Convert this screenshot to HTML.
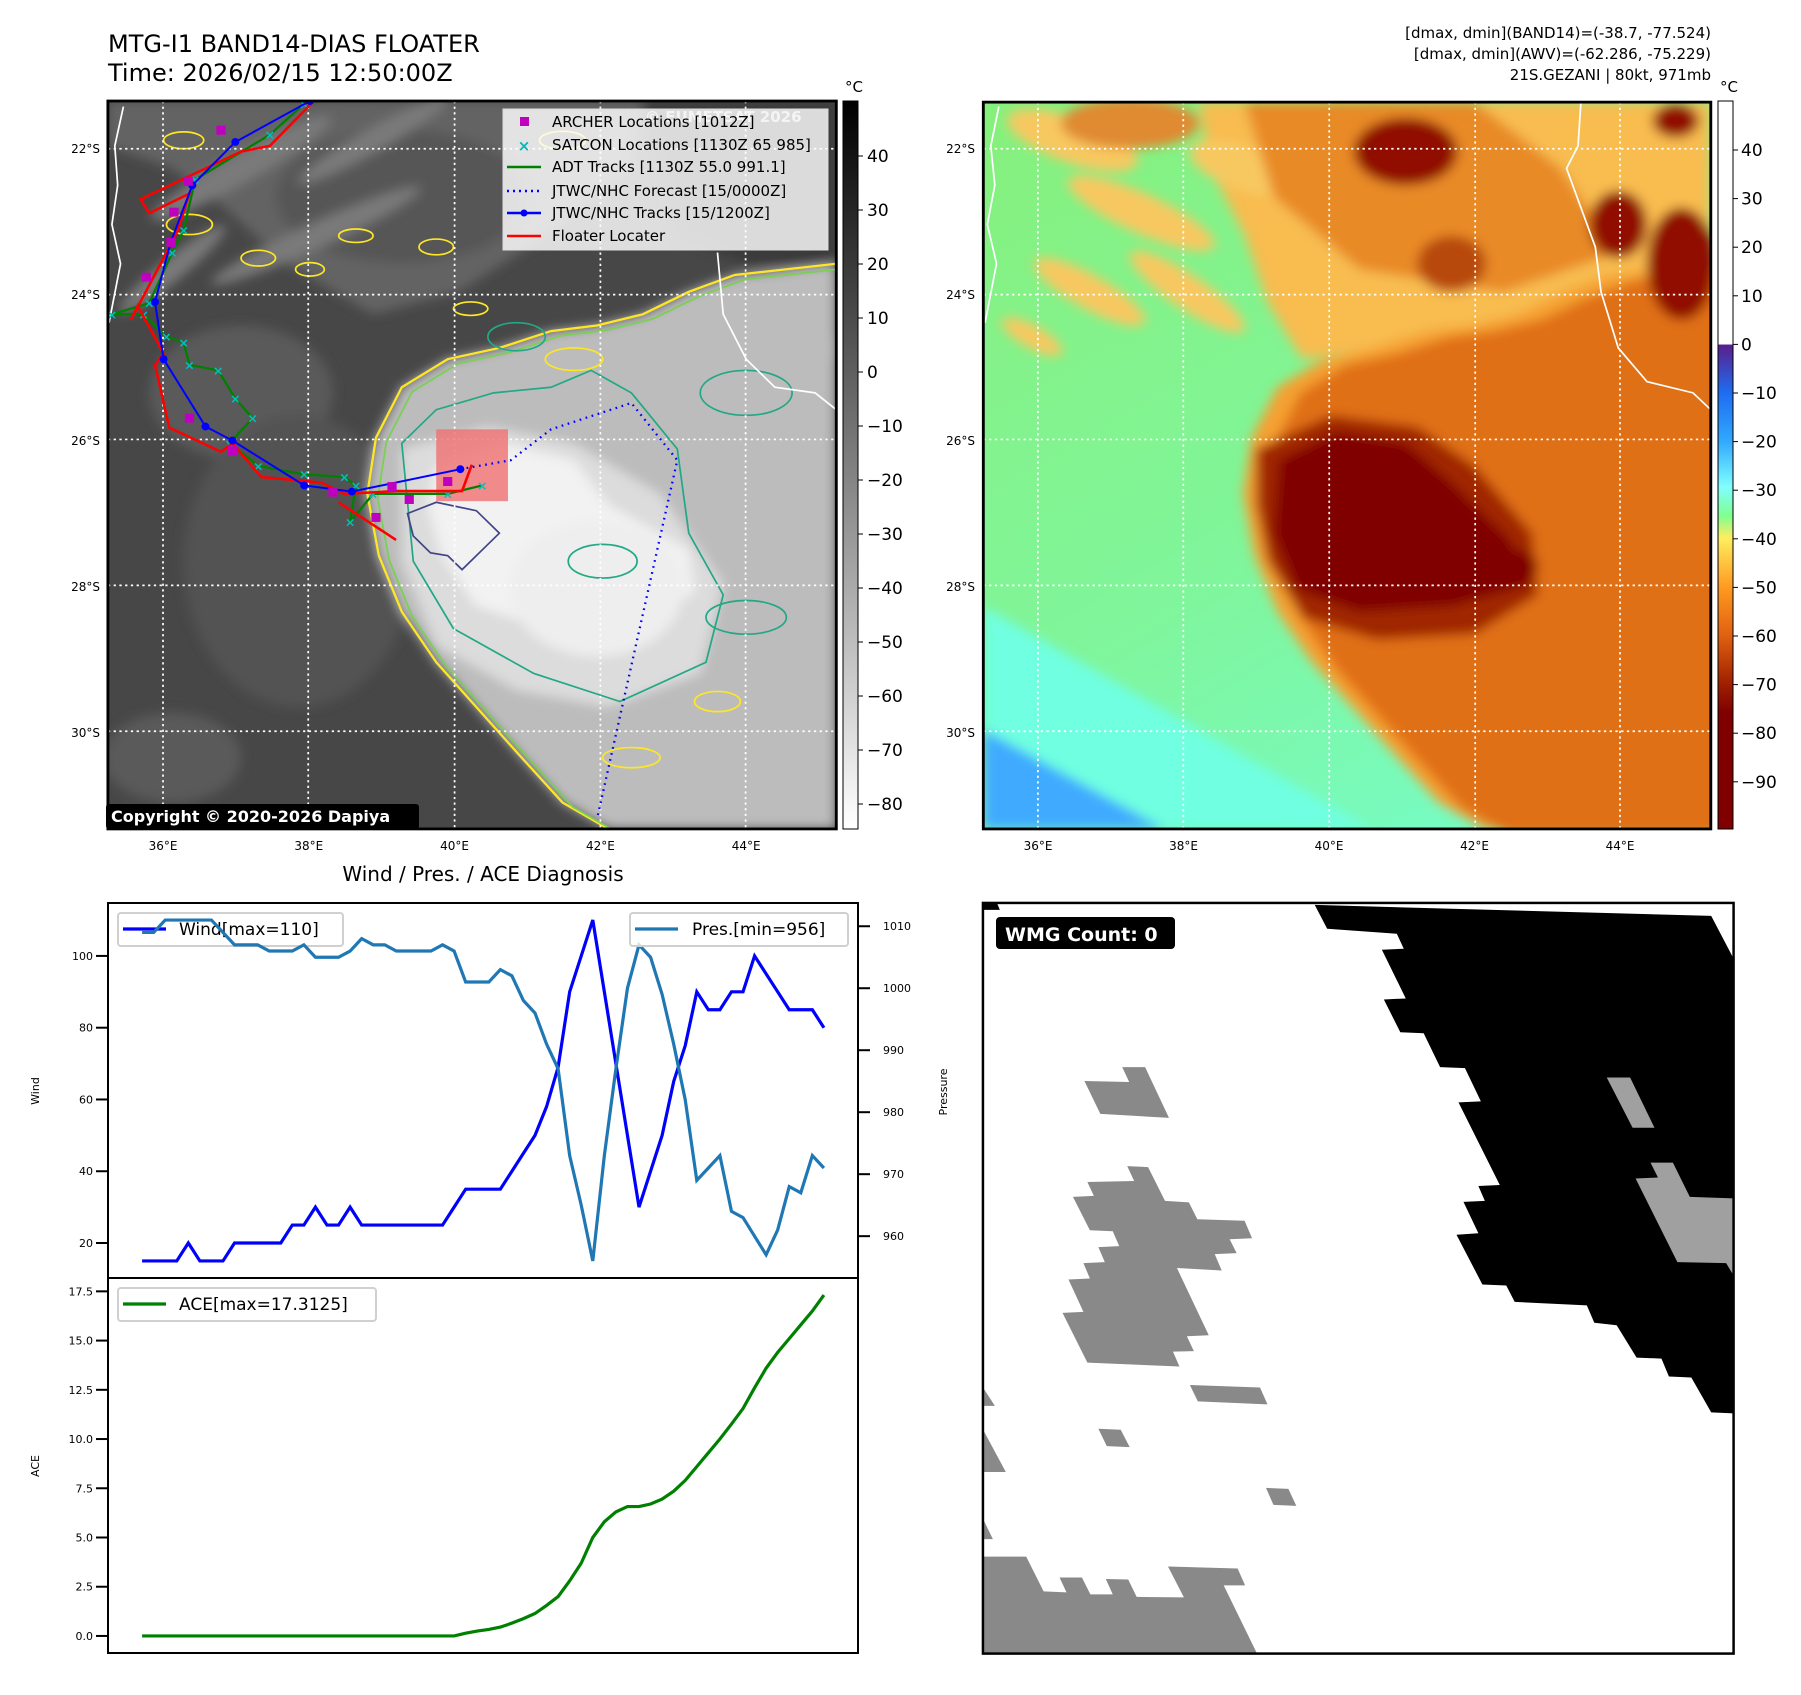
<!DOCTYPE html>
<html><head><meta charset="utf-8">
<style>
html,body{margin:0;padding:0;background:#fff;}
body{width:1801px;height:1690px;overflow:hidden;position:relative;font-family:"Liberation Sans","DejaVu Sans",sans-serif;}
svg text{font-family:"DejaVu Sans","Liberation Sans",sans-serif;}
</style></head>
<body>
<svg id="root" width="1801" height="1690" viewBox="0 0 1801 1690" xmlns="http://www.w3.org/2000/svg">
<defs>
  <filter id="blur8" x="-20%" y="-20%" width="140%" height="140%"><feGaussianBlur stdDeviation="10"/></filter>
  <filter id="blur4" x="-20%" y="-20%" width="140%" height="140%"><feGaussianBlur stdDeviation="5"/></filter>
  <clipPath id="clipL"><rect x="188" y="180" width="1269" height="1297"/></clipPath>
  <clipPath id="clipR"><rect x="145" y="182" width="1266" height="1295"/></clipPath>
  <linearGradient id="cbGray" x1="0" y1="0" x2="0" y2="1">
    <stop offset="0" stop-color="#000"/><stop offset="1" stop-color="#fff"/>
  </linearGradient>
  <linearGradient id="cbColor" x1="0" y1="0" x2="0" y2="1">
    <stop offset="0" stop-color="#fff"/>
    <stop offset="0.334" stop-color="#fff"/>
    <stop offset="0.335" stop-color="#5a1e8c"/>
    <stop offset="0.40" stop-color="#1e6cf0"/>
    <stop offset="0.467" stop-color="#30a8ff"/>
    <stop offset="0.53" stop-color="#80ffff"/>
    <stop offset="0.57" stop-color="#80ff90"/>
    <stop offset="0.60" stop-color="#ffee60"/>
    <stop offset="0.668" stop-color="#ff9a20"/>
    <stop offset="0.735" stop-color="#e06010"/>
    <stop offset="0.80" stop-color="#a02000"/>
    <stop offset="0.84" stop-color="#800000"/>
    <stop offset="1" stop-color="#800000"/>
  </linearGradient>
  <linearGradient id="seaR" x1="0" y1="0" x2="0.6" y2="1">
    <stop offset="0" stop-color="#86f07c"/>
    <stop offset="0.6" stop-color="#80f59a"/>
    <stop offset="1" stop-color="#78fbc0"/>
  </linearGradient>
</defs>

<text x="108" y="52" font-size="24" fill="#000">MTG-I1 BAND14-DIAS FLOATER</text>
<text x="108" y="81" font-size="24" fill="#000">Time: 2026/02/15 12:50:00Z</text>
<text x="1711" y="38" font-size="15" text-anchor="end">[dmax, dmin](BAND14)=(-38.7, -77.524)</text>
<text x="1711" y="59" font-size="15" text-anchor="end">[dmax, dmin](AWV)=(-62.286, -75.229)</text>
<text x="1711" y="80" font-size="15" text-anchor="end">21S.GEZANI | 80kt, 971mb</text>

<svg x="0" y="0" width="900" height="880" viewBox="0 0 1568 1568" preserveAspectRatio="none">
  <g clip-path="url(#clipL)" id="leftMap"></g>
  <rect x="188" y="180" width="1269" height="1297" fill="none" stroke="#000" stroke-width="5"/>
</svg>
<svg x="900" y="0" width="901" height="880" viewBox="0 0 1568 1568" preserveAspectRatio="none">
  <g clip-path="url(#clipR)" id="rightMap"></g>
  <rect x="145" y="182" width="1266" height="1295" fill="none" stroke="#000" stroke-width="5"/>
</svg>

<rect x="843" y="101" width="15" height="728" fill="url(#cbGray)" stroke="#000" stroke-width="1"/>
<text x="854" y="92" font-size="15" text-anchor="middle">°C</text>
<g id="cbLticks"></g>
<rect x="1718" y="101" width="15" height="728" fill="url(#cbColor)" stroke="#000" stroke-width="1"/>
<text x="1729" y="92" font-size="15" text-anchor="middle">°C</text>
<g id="cbRticks"></g>
<g id="mapLabels"></g>

<g>
  <text x="645" y="122" font-size="15" font-weight="bold" fill="#ffffff" opacity="0.7">© EUMETSAT 2026</text>
  <rect x="503" y="109" width="325" height="141" fill="#ffffff" fill-opacity="0.82" stroke="#ddd"/>
  <rect x="520" y="117" width="9" height="9" fill="#c000c0"/>
  <text x="552" y="127" font-size="15">ARCHER Locations [1012Z]</text>
  <text x="524" y="151" font-size="15" fill="#00b8b8" text-anchor="middle" font-weight="bold">×</text>
  <text x="552" y="150" font-size="15">SATCON Locations [1130Z 65 985]</text>
  <line x1="507" y1="167" x2="541" y2="167" stroke="#008000" stroke-width="2.5"/>
  <text x="552" y="172" font-size="15">ADT Tracks [1130Z 55.0 991.1]</text>
  <line x1="507" y1="191" x2="541" y2="191" stroke="#0000ff" stroke-width="2.5" stroke-dasharray="2,4"/>
  <text x="552" y="196" font-size="15">JTWC/NHC Forecast [15/0000Z]</text>
  <line x1="507" y1="213" x2="541" y2="213" stroke="#0000ff" stroke-width="2.5"/>
  <circle cx="524" cy="213" r="3.5" fill="#0000ff"/>
  <text x="552" y="218" font-size="15">JTWC/NHC Tracks [15/1200Z]</text>
  <line x1="507" y1="236" x2="541" y2="236" stroke="#ff0000" stroke-width="2.5"/>
  <text x="552" y="241" font-size="15">Floater Locater</text>
</g>
<rect x="106" y="804" width="313" height="25" rx="3" fill="#000"/>
<text x="111" y="822" font-size="16" font-weight="bold" fill="#fff">Copyright © 2020-2026 Dapiya</text>

<text x="483" y="881" font-size="20" text-anchor="middle">Wind / Pres. / ACE Diagnosis</text>
<g id="chart"></g>

<svg x="970" y="890" width="780" height="780" viewBox="0 0 1568 1568" preserveAspectRatio="none">
  <rect x="26" y="26" width="1509" height="1509" fill="#fff"/>
  <g id="wmg"></g>
  <rect x="26" y="26" width="1509" height="1509" fill="none" stroke="#000" stroke-width="5"/>
</svg>
<rect x="996" y="917" width="179" height="32" rx="4" fill="#000"/>
<text x="1005" y="941" font-size="19" font-weight="bold" fill="#fff">WMG Count: 0</text>
</svg>

<script>
const timeSteps = Array.from({length:60},(_,i)=>i);
const windValues = [15,15,15,15,20,15,15,15,20,20,20,20,20,25,25,30,25,25,30,25,25,25,25,25,25,25,25,30,35,35,35,35,40,45,50,58,69,90,100,110,90,70,50,30,40,50,65,75,90,85,85,90,90,100,95,90,85,85,85,80];
const presValues = [1009,1009,1011,1011,1011,1011,1011,1009,1007,1007,1007,1006,1006,1006,1007,1005,1005,1005,1006,1008,1007,1007,1006,1006,1006,1006,1007,1006,1001,1001,1001,1003,1002,998,996,991,987,973,965,956,973,987,1000,1007,1005,999,991,982,969,971,973,964,963,960,957,961,968,967,973,971];
const aceValues = [0,0,0,0,0,0,0,0,0,0,0,0,0,0,0,0,0,0,0,0,0,0,0,0,0,0,0,0,0.14,0.25,0.33,0.45,0.65,0.88,1.14,1.55,2.0,2.8,3.7,5.0,5.8,6.3,6.57,6.57,6.7,6.95,7.35,7.9,8.6,9.3,10.0,10.76,11.55,12.6,13.6,14.4,15.1,15.8,16.5,17.3125];
const windTicks = [20,40,60,80,100];
const presTicks = [960,970,980,990,1000,1010];
const aceTicks = [0.0,2.5,5.0,7.5,10.0,12.5,15.0,17.5];
const windLabel = "Wind[max=110]";
const presLabel = "Pres.[min=956]";
const aceLabel = "ACE[max=17.3125]";

const NS="http://www.w3.org/2000/svg";
function mk(tag, attrs, parent){const e=document.createElementNS(NS,tag);for(const k in attrs)e.setAttribute(k,attrs[k]);if(parent)parent.appendChild(e);return e;}
function ext(arr){const mn=Math.min(...arr),mx=Math.max(...arr),m=(mx-mn)*0.05;return [mn-m,mx+m];}

const PX0=108,PX1=858,WY0=903,WY1=1278,AY0=1278,AY1=1653;
const xd=ext(timeSteps);
function xS(i){return PX0+(i-xd[0])/(xd[1]-xd[0])*(PX1-PX0);}
const wd=ext(windValues);
function wY(v){return WY1-(v-wd[0])/(wd[1]-wd[0])*(WY1-WY0);}
const pd=ext(presValues);
function pY(v){return WY1-(v-pd[0])/(pd[1]-pd[0])*(WY1-WY0);}
const ad=ext(aceValues);
function aY(v){return AY1-(v-ad[0])/(ad[1]-ad[0])*(AY1-AY0);}

const chart=document.getElementById('chart');
const fmt1=v=>v.toFixed(1);

let wp=mk('rect',{x:PX0,y:WY0,width:PX1-PX0,height:WY1-WY0,fill:'#fff'},chart);


windTicks.forEach(t=>{
  const y=wY(t);
  mk('line',{x1:PX0-12,y1:y,x2:PX0,y2:y,stroke:'#000','stroke-width':2},chart);
  const tx=mk('text',{x:PX0-15,y:y+4,'font-size':11,'text-anchor':'end'},chart);
  tx.textContent=t;
  
  
});
presTicks.forEach(t=>{
  const y=pY(t);
  mk('line',{x1:PX1,y1:y,x2:PX1+12,y2:y,stroke:'#000','stroke-width':2},chart);
  const tx=mk('text',{x:PX1+25,y:y+4,'font-size':11},chart);
  tx.textContent=t;
  
  
});
const wl=mk('polyline',{points:timeSteps.map(i=>xS(i)+','+wY(windValues[i])).join(' '),fill:'none',stroke:'#0000ff','stroke-width':3.2},chart);


const wlg=mk('g',{},chart);


mk('rect',{x:118,y:913,width:225,height:33,rx:3,fill:'#fff','fill-opacity':0.8,stroke:'#d0d0d0','stroke-width':2},wlg);
mk('line',{x1:123,y1:929,x2:166,y2:929,stroke:'#0000ff','stroke-width':3.2},wlg);
const wlt=mk('text',{x:179,y:935,'font-size':17},wlg); wlt.textContent=windLabel;
const pl=mk('polyline',{points:timeSteps.map(i=>xS(i)+','+pY(presValues[i])).join(' '),fill:'none',stroke:'#1f77b4','stroke-width':3.2},chart);


const plg=mk('g',{},chart);


mk('rect',{x:630,y:913,width:218,height:33,rx:3,fill:'#fff','fill-opacity':0.8,stroke:'#d0d0d0','stroke-width':2},plg);
mk('line',{x1:635,y1:929,x2:678,y2:929,stroke:'#1f77b4','stroke-width':3.2},plg);
const plt=mk('text',{x:692,y:935,'font-size':17},plg); plt.textContent=presLabel;
mk('rect',{x:PX0,y:WY0,width:PX1-PX0,height:WY1-WY0,fill:'none',stroke:'#000','stroke-width':2},chart);
let t1=mk('text',{x:0,y:0,'font-size':11,transform:'translate(39,1091) rotate(-90)','text-anchor':'middle'},chart);t1.textContent='Wind';


let t2=mk('text',{x:0,y:0,'font-size':11,transform:'translate(947,1092) rotate(-90)','text-anchor':'middle'},chart);t2.textContent='Pressure';



aceTicks.forEach(t=>{
  const y=aY(t);
  mk('line',{x1:PX0-12,y1:y,x2:PX0,y2:y,stroke:'#000','stroke-width':2},chart);
  const tx=mk('text',{x:PX0-15,y:y+4,'font-size':11,'text-anchor':'end'},chart);
  tx.textContent=fmt1(t);
  
  
});
const al=mk('polyline',{points:timeSteps.map(i=>xS(i)+','+aY(aceValues[i])).join(' '),fill:'none',stroke:'#008000','stroke-width':3.2},chart);


const alg=mk('g',{},chart);


mk('rect',{x:118,y:1288,width:258,height:33,rx:3,fill:'#fff','fill-opacity':0.8,stroke:'#d0d0d0','stroke-width':2},alg);
mk('line',{x1:123,y1:1304,x2:166,y2:1304,stroke:'#008000','stroke-width':3.2},alg);
const alt=mk('text',{x:179,y:1310,'font-size':17},alg); alt.textContent=aceLabel;
mk('rect',{x:PX0,y:AY0,width:PX1-PX0,height:AY1-AY0,fill:'none',stroke:'#000','stroke-width':2},chart);
let t3=mk('text',{x:0,y:0,'font-size':11,transform:'translate(39,1466) rotate(-90)','text-anchor':'middle'},chart);t3.textContent='ACE';



const irCbTicks=[40,30,20,10,0,-10,-20,-30,-40,-50,-60,-70,-80];
const awvCbTicks=[40,30,20,10,0,-10,-20,-30,-40,-50,-60,-70,-80,-90];
const cbl=document.getElementById('cbLticks');
irCbTicks.forEach(v=>{
  const y=156+(40-v)*5.4;
  mk('line',{x1:858,y1:y,x2:863,y2:y,stroke:'#000','stroke-width':1},cbl);
  const tx=mk('text',{x:867,y:y+6,'font-size':17},cbl);
  tx.textContent=(v<0?'\u2212'+(-v):v);
  
  
});
const cbr=document.getElementById('cbRticks');
awvCbTicks.forEach(v=>{
  const y=150+(40-v)*4.86;
  mk('line',{x1:1733,y1:y,x2:1738,y2:y,stroke:'#000','stroke-width':1},cbr);
  const tx=mk('text',{x:1741,y:y+6,'font-size':17},cbr);
  tx.textContent=(v<0?'\u2212'+(-v):v);
  
  
});

const lats=[22,24,26,28,30], lons=[36,38,40,42,44];
const ml=document.getElementById('mapLabels');
lats.forEach(l=>{
  const y=149+(l-22)*73;
  [100,975].forEach(x=>{
    const tx=mk('text',{x:x,y:y+4,'font-size':12,'text-anchor':'end'},ml);
    tx.textContent=l+'°S';
    
    
  });
});
lons.forEach(l=>{
  [163+(l-36)*72.9, 1038+(l-36)*72.75].forEach(x=>{
    const tx=mk('text',{x:x,y:850,'font-size':12,'text-anchor':'middle'},ml);
    tx.textContent=l+'°E';
    
    
  });
});

const pts=a=>a.map(p=>p.join(',')).join(' ');
const shield=[[640,880],[655,780],[700,690],[780,640],[870,620],[960,590],[1040,580],[1120,560],[1200,520],[1280,490],[1457,470],[1457,1477],[1060,1477],[980,1430],[900,1340],[830,1260],[760,1180],[700,1090],[660,990]];
const inner=[[700,800],[850,760],[1000,790],[1150,880],[1260,1040],[1220,1200],[1060,1260],[900,1230],[760,1150],[700,1000]];
const core=[[760,830],[880,790],[1000,820],[1060,900],[1200,980],[1210,1060],[1100,1090],[950,1120],[830,1080],[770,990],[745,900]];
const north=[[188,180],[1120,180],[1100,300],[950,420],[800,520],[650,560],[500,470],[380,360],[300,300],[188,260]];
const L=document.getElementById('leftMap');
mk('rect',{x:188,y:180,width:1269,height:1297,fill:'#474747'},L);
const lb=mk('g',{filter:'url(#blur8)'},L);
mk('polygon',{points:pts(north),fill:'#646464'},lb);
mk('ellipse',{cx:700,cy:350,rx:220,ry:120,fill:'#575757'},lb);
mk('ellipse',{cx:420,cy:700,rx:160,ry:120,fill:'#5a5a5a'},lb);
mk('ellipse',{cx:520,cy:1000,rx:200,ry:260,fill:'#525252'},lb);
mk('ellipse',{cx:300,cy:1350,rx:120,ry:80,fill:'#5a5a5a'},lb);
[[420,300,180,25,-30],[550,420,200,22,-25],[650,250,150,20,-30],[300,480,120,20,-40]].forEach(e=>mk('ellipse',{cx:e[0],cy:e[1],rx:e[2],ry:e[3],fill:'#7a7a7a',transform:'rotate('+e[4]+' '+e[0]+' '+e[1]+')'},lb));
mk('polygon',{points:pts([[1120,180],[1457,180],[1457,480],[1300,470],[1180,420]]),fill:'#3a3a3a'},lb);
mk('ellipse',{cx:1350,cy:620,rx:110,ry:110,fill:'#8a8a8a'},lb);
mk('polygon',{points:pts(shield),fill:'#bcbcbc'},lb);
mk('polygon',{points:pts(inner),fill:'#dcdcdc'},lb);
mk('polygon',{points:pts(core),fill:'#f2f2f2'},lb);
mk('ellipse',{cx:1040,cy:1050,rx:150,ry:120,fill:'#eeeeee'},lb);
mk('polygon',{points:pts(shield),fill:'none',stroke:'#fde725','stroke-width':4},L);
mk('polygon',{points:pts(shield.map(p=>[p[0]+18,p[1]+8])),fill:'none',stroke:'#7ad151','stroke-width':3},L);
mk('polygon',{points:pts([[700,790],[760,730],[860,700],[960,690],[1030,660],[1100,700],[1180,800],[1200,950],[1260,1060],[1230,1180],[1080,1250],[930,1200],[790,1120],[720,1000]]),fill:'none',stroke:'#22a884','stroke-width':3},L);
mk('polygon',{points:pts([[710,915],[760,895],[830,910],[870,950],[845,975],[805,1015],[780,990],[750,985],[720,955]]),fill:'none',stroke:'#414487','stroke-width':3},L);
[[330,400,40,18],[450,460,30,14],[540,480,25,12],[760,440,30,14],[980,250,40,16],[820,550,30,12],[1000,640,50,20],[1250,1250,40,18],[1100,1350,50,18],[320,250,35,15],[620,420,30,12]].forEach(e=>{
  mk('ellipse',{cx:e[0],cy:e[1],rx:e[2],ry:e[3],fill:'none',stroke:'#fde725','stroke-width':3},L);
});
[[1300,700,80,40],[1050,1000,60,30],[1300,1100,70,30],[900,600,50,25]].forEach(e=>{
  mk('ellipse',{cx:e[0],cy:e[1],rx:e[2],ry:e[3],fill:'none',stroke:'#22a884','stroke-width':3},L);
});
mk('polyline',{points:'215,190 200,260 205,330 195,400 210,470 190,575',fill:'none',stroke:'#fff','stroke-width':3},L);
mk('polyline',{points:'1250,450 1260,560 1300,640 1350,690 1420,700 1457,730',fill:'none',stroke:'#fff','stroke-width':3},L);
function grid(g,xs,ys,x0,y0,x1,y1){
  xs.forEach(x=>mk('line',{x1:x,y1:y0,x2:x,y2:y1,stroke:'#fff','stroke-width':3,'stroke-dasharray':'4,6'},g));
  ys.forEach(y=>mk('line',{x1:x0,y1:y,x2:x1,y2:y,stroke:'#fff','stroke-width':3,'stroke-dasharray':'4,6'},g));
}
grid(L,[284,537,792,1046,1299],[265,525,783,1043,1303],188,180,1457,1477);
mk('rect',{x:760,y:765,width:125,height:128,fill:'#f07070','fill-opacity':0.8},L);
const greenT=[[530,185],[470,240],[340,320],[320,410],[300,450],[260,540],[195,560],[250,560],[290,600],[320,610],[330,650],[380,660],[410,710],[440,745],[400,790],[450,830],[530,845],[600,850],[620,865],[610,930],[650,880],[780,880],[840,865]];
mk('polyline',{points:pts(greenT),fill:'none',stroke:'#008000','stroke-width':4},L);
greenT.forEach(p=>{const t=mk('text',{x:p[0],y:p[1]+8,'font-size':22,fill:'#00c0c0','text-anchor':'middle','font-weight':'bold'},L);t.textContent='×';});
const redT=[[545,182],[470,260],[420,270],[245,355],[260,380],[330,345],[310,410],[290,450],[228,570],[240,545],[285,630],[270,650],[295,762],[385,805],[405,790],[455,850],[560,860],[600,880],[690,875],[805,875],[822,828]];
mk('polyline',{points:pts(redT),fill:'none',stroke:'#ff0000','stroke-width':4.5},L);
mk('line',{x1:590,y1:895,x2:690,y2:962,stroke:'#ff0000','stroke-width':4.5},L);
const blueT=[[540,180],[410,253],[335,330],[297,433],[270,538],[285,640],[358,760],[405,785],[530,865],[613,876],[802,836]];
mk('polyline',{points:pts(blueT),fill:'none',stroke:'#0000ff','stroke-width':3.5},L);
blueT.forEach(p=>mk('circle',{cx:p[0],cy:p[1],r:7,fill:'#0000ff'},L));
mk('polyline',{points:'802,836 890,820 960,765 1100,718 1180,820 1040,1460',fill:'none',stroke:'#0000ff','stroke-width':4,'stroke-dasharray':'3,8'},L);
[[385,232],[328,323],[303,378],[298,432],[255,494],[330,745],[405,803],[580,877],[683,867],[713,890],[655,922],[780,858]].forEach(p=>mk('rect',{x:p[0]-8,y:p[1]-8,width:16,height:16,fill:'#c000c0'},L));

const R=document.getElementById('rightMap');
const sh=a=>a.map(p=>[p[0]-43,p[1]]);
mk('rect',{x:145,y:182,width:1266,height:1295,fill:'url(#seaR)'},R);
const rb=mk('g',{filter:'url(#blur8)'},R);
mk('polygon',{points:pts([[145,1080],[820,1477],[145,1477]]),fill:'#70ffe0'},rb);
mk('polygon',{points:pts([[145,1300],[460,1477],[145,1477]]),fill:'#40aaff'},rb);
mk('polygon',{points:pts([[520,182],[1411,182],[1411,720],[1250,660],[1050,600],[850,620],[700,640],[640,540],[600,420],[540,300]]),fill:'#f8bc50'},rb);
[[300,250,120,40,20],[420,380,140,35,25],[330,520,110,30,30],[500,520,120,30,35],[230,600,60,20,30],[600,300,100,40,20]].forEach(e=>mk('ellipse',{cx:e[0],cy:e[1],rx:e[2],ry:e[3],fill:'#f8c860',transform:'rotate('+e[4]+' '+e[0]+' '+e[1]+')'},rb));
mk('ellipse',{cx:400,cy:220,rx:120,ry:45,fill:'#e08a30'},rb);
mk('polygon',{points:pts([[600,182],[1000,182],[1150,300],[1250,450],[1050,520],[800,480],[650,350]]),fill:'#e88a28'},rb);
mk('polygon',{points:pts(sh(shield)),fill:'#f5a030'},rb);
mk('polygon',{points:pts(sh(shield).map(p=>[p[0]+40,p[1]+10])),fill:'#e07018'},rb);
mk('polygon',{points:pts([[620,800],[750,740],[900,760],[1000,830],[1100,950],[1110,1060],[1000,1130],[830,1140],[700,1100],[640,1000],[620,900]]),fill:'#a02800'},rb);
mk('polygon',{points:pts([[660,820],[760,770],[880,790],[960,860],[1060,960],[1100,1040],[960,1080],[800,1090],[690,1050],[650,950]]),fill:'#800000'},rb);
mk('ellipse',{cx:880,cy:270,rx:90,ry:60,fill:'#900a00'},rb);
mk('ellipse',{cx:1250,cy:400,rx:50,ry:60,fill:'#901000'},rb);
mk('ellipse',{cx:1360,cy:470,rx:60,ry:100,fill:'#901000'},rb);
mk('ellipse',{cx:1350,cy:215,rx:40,ry:30,fill:'#901000'},rb);
mk('ellipse',{cx:1070,cy:1010,rx:40,ry:30,fill:'#800000'},rb);
mk('ellipse',{cx:960,cy:470,rx:60,ry:50,fill:'#b84a10'},rb);
mk('polyline',{points:'172,190 158,260 165,330 152,400 168,470 148,575',fill:'none',stroke:'#fff','stroke-width':3},R);
mk('polyline',{points:'1185,182 1180,260 1160,300 1210,440 1220,520 1250,620 1300,680 1380,700 1411,730',fill:'none',stroke:'#fff','stroke-width':3},R);
grid(R,[240,493,747,1001,1253],[265,525,783,1043,1303],145,182,1411,1477);

const W=document.getElementById('wmg');
const black=[[693,30],[1490,52],[1535,138],[1535,1052],[1490,1050],[1450,980],[1405,978],[1390,942],[1340,940],[1300,875],[1255,870],[1240,835],[1095,828],[1078,795],[1030,793],[978,693],[1022,690],[992,627],[1035,625],[1022,595],[1065,593],[982,427],[1027,425],[995,358],[945,356],[912,288],[865,286],[832,220],[876,218],[828,120],[872,118],[858,88],[718,78]];
mk('polygon',{points:pts(black),fill:'#000'},W);
mk('polygon',{points:'28,28 55,28 60,40 28,40',fill:'#000'},W);
[[[1280,377],[1327,377],[1376,478],[1332,478]],[[1368,548],[1413,548],[1447,617],[1535,620],[1535,775],[1520,750],[1422,748],[1338,580],[1383,578]]].forEach(p=>mk('polygon',{points:pts(p),fill:'#a0a0a0'},W));
[
 [[230,384],[320,386],[306,356],[352,356],[400,458],[262,450]],
 [[316,555],[358,557],[392,625],[440,628],[457,662],[552,665],[567,700],[522,702],[536,730],[492,732],[506,765],[416,760],[480,895],[436,897],[450,927],[408,928],[421,958],[236,950],[186,850],[228,848],[198,783],[241,781],[228,750],[271,748],[258,718],[300,716],[287,686],[241,684],[207,617],[249,615],[236,587],[330,585]],
 [[442,995],[583,1000],[598,1034],[458,1028]],
 [[258,1083],[303,1085],[321,1120],[275,1118]],
 [[595,1202],[640,1204],[656,1238],[610,1236]],
 [[28,1003],[50,1037],[28,1037]],
 [[28,1088],[72,1170],[28,1170]],
 [[28,1268],[46,1305],[28,1305]],
 [[28,1340],[113,1340],[148,1410],[194,1412],[180,1382],[225,1382],[242,1416],[287,1416],[273,1385],[318,1386],[335,1421],[430,1422],[398,1360],[538,1364],[553,1398],[510,1398],[577,1535],[28,1535]]
].forEach(p=>mk('polygon',{points:pts(p),fill:'#898989'},W));
</script>
</body></html>
